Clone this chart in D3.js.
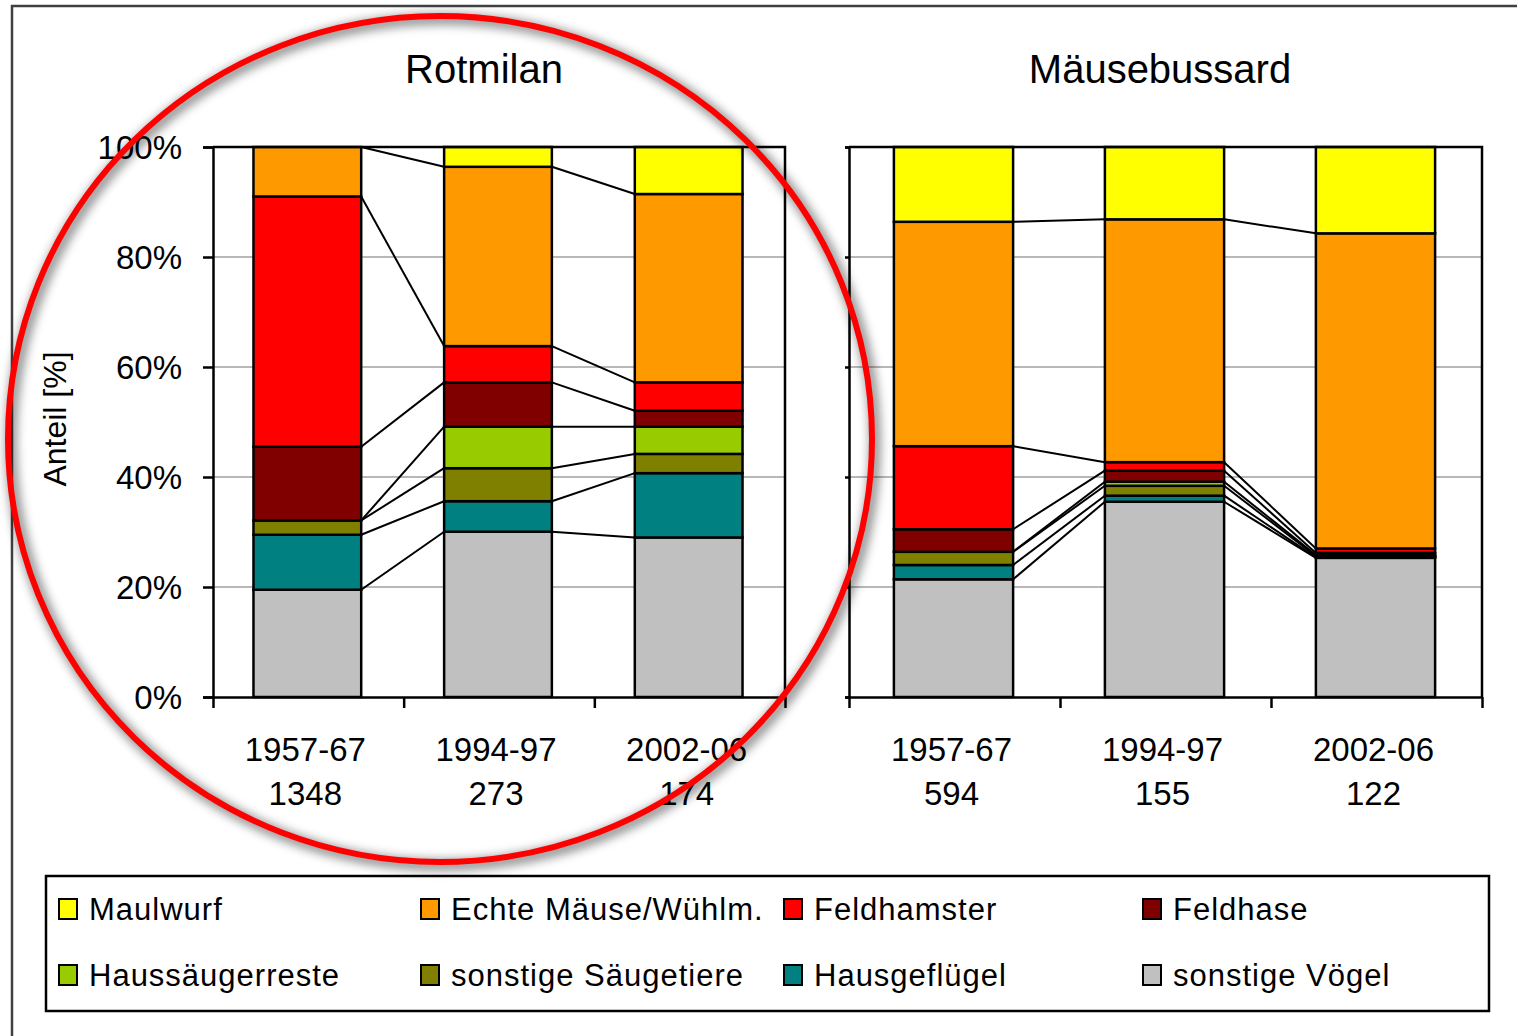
<!DOCTYPE html>
<html>
<head>
<meta charset="utf-8">
<script src="https://cdn.jsdelivr.net/npm/d3@7"></script>
<style>
  body { margin: 0; background: #fff; }
  svg text { font-family: "Liberation Sans", Arial, sans-serif; fill: #000; }
</style>
</head>
<body>
<div id="chart"></div>
<script>
// series, top of the stack first (legend order)
const seriesNames = ["Maulwurf", "Echte Mäuse/Wühlm.", "Feldhamster", "Feldhase",
                     "Haussäugerreste", "sonstige Säugetiere", "Hausgeflügel", "sonstige Vögel"];
const seriesColors = ["#FFFF00", "#FF9900", "#FF0000", "#800000",
                      "#99CC00", "#808000", "#008080", "#C0C0C0"];
const periods = ["1957-67", "1994-97", "2002-06"];
const yTicks = [0, 0.2, 0.4, 0.6, 0.8, 1];

// Rotmilan, percent per series (rows) and period (columns)
const rotmilanTitle = "Rotmilan";
const rotmilanN = [1348, 273, 174];
const rotmilanShares = [
  [0, 3.6, 8.55],
  [9.0, 32.6, 34.25],
  [45.5, 6.6, 5.15],
  [13.4, 8.05, 2.9],
  [0, 7.55, 4.95],
  [2.6, 6.0, 3.5],
  [10.0, 5.55, 11.7],
  [19.5, 30.05, 29.0]
];

// Mäusebussard
const bussardTitle = "Mäusebussard";
const bussardN = [594, 155, 122];
const bussardShares = [
  [13.6, 13.15, 15.7],
  [40.8, 44.15, 57.3],
  [15.1, 1.55, 0.8],
  [4.1, 2.0, 0.4],
  [0, 0.75, 0.2],
  [2.4, 1.8, 0.2],
  [2.6, 1.1, 0.1],
  [21.4, 35.5, 25.3]
];

const W = 1517, H = 1036;
const svg = d3.select("#chart").append("svg")
  .attr("width", W).attr("height", H);

// outer frame
svg.append("rect")
  .attr("x", 12).attr("y", 6).attr("width", 1600).attr("height", 1100)
  .attr("fill", "none").attr("stroke", "#404040").attr("stroke-width", 2.5);

const y = d3.scaleLinear().domain([0, 1]).range([697, 147]);

function drawPanel(opt) {
  const g = svg.append("g");
  const x0 = opt.x0, x1 = opt.x1;

  // rows -> period objects for d3.stack
  const rows = periods.map((p, j) => {
    const o = { period: p };
    seriesNames.forEach((s, i) => { o[s] = opt.shares[i][j] / 100; });
    return o;
  });
  const keys = seriesNames.slice().reverse(); // bottom first
  const stacked = d3.stack().keys(keys)(rows);

  const xBand = d3.scaleBand().domain(periods).range([x0, x1]).padding(0);
  const barW = xBand.bandwidth() * 0.565;
  const barLeft = p => xBand(p) + (xBand.bandwidth() - barW) / 2 - 1;
  const color = d3.scaleOrdinal().domain(seriesNames).range(seriesColors);

  // gridlines
  g.append("g").selectAll("line")
    .data(yTicks.filter(t => t > 0 && t < 1))
    .join("line")
    .attr("x1", x0).attr("x2", x1)
    .attr("y1", d => y(d)).attr("y2", d => y(d))
    .attr("stroke", "#a0a0a0").attr("stroke-width", 1.5);

  // bars
  g.append("g").selectAll("g")
    .data(stacked)
    .join("g")
    .attr("fill", d => color(d.key))
    .selectAll("rect")
    .data(d => d)
    .join("rect")
    .attr("x", d => barLeft(d.data.period))
    .attr("width", barW)
    .attr("y", d => y(d[1]))
    .attr("height", d => y(d[0]) - y(d[1]))
    .attr("stroke", "#000").attr("stroke-width", 2.5);

  // series lines between bars
  const segs = [];
  stacked.forEach(s => {
    for (let j = 0; j < periods.length - 1; j++) {
      segs.push({
        xa: barLeft(periods[j]) + barW, ya: y(s[j][1]),
        xb: barLeft(periods[j + 1]), yb: y(s[j + 1][1])
      });
    }
  });
  g.append("g").selectAll("line")
    .data(segs)
    .join("line")
    .attr("x1", d => d.xa).attr("y1", d => d.ya)
    .attr("x2", d => d.xb).attr("y2", d => d.yb)
    .attr("stroke", "#000").attr("stroke-width", 2);

  // plot frame top + right
  g.append("path")
    .attr("d", `M${x0},${y(1)}H${x1}V${y(0)}`)
    .attr("fill", "none").attr("stroke", "#000").attr("stroke-width", 2.5);

  // y axis
  const yAxis = d3.axisLeft(y).tickValues(yTicks).tickSizeOuter(0);
  if (opt.labels) {
    yAxis.tickFormat(d3.format(".0%")).tickSize(10).tickPadding(21);
  } else {
    yAxis.tickFormat("").tickSize(4);
  }
  const ya = g.append("g").attr("transform", `translate(${x0},0)`).call(yAxis);
  ya.selectAll("text").style("font-size", "33px").attr("dy", "0.35em");
  ya.selectAll("path, line").attr("stroke", "#000").attr("stroke-width", 2.5);

  // x axis with ticks at category boundaries
  const xb = d3.scaleLinear().domain([0, periods.length]).range([x0, x1]);
  const xAxis = d3.axisBottom(xb).tickValues(d3.range(periods.length + 1))
    .tickFormat("").tickSize(11).tickSizeOuter(0);
  const xa = g.append("g").attr("transform", `translate(0,${y(0)})`).call(xAxis);
  xa.selectAll("path, line").attr("stroke", "#000").attr("stroke-width", 2.5);

  // category labels
  const lab = g.append("g").selectAll("text")
    .data(periods)
    .join("text")
    .attr("text-anchor", "middle")
    .style("font-size", "33px");
  lab.append("tspan")
    .attr("x", d => xBand(d) + xBand.bandwidth() / 2 - 3)
    .attr("y", 761)
    .text(d => d);
  lab.append("tspan")
    .attr("x", d => xBand(d) + xBand.bandwidth() / 2 - 3)
    .attr("y", 805)
    .text((d, i) => opt.n[i]);

  // title
  g.append("text")
    .attr("x", opt.titleX).attr("y", 83)
    .attr("text-anchor", "middle")
    .style("font-size", "40px")
    .text(opt.title);
}

drawPanel({ x0: 213, x1: 785, shares: rotmilanShares, n: rotmilanN,
            title: rotmilanTitle, titleX: 484, labels: true });
drawPanel({ x0: 849, x1: 1482, shares: bussardShares, n: bussardN,
            title: bussardTitle, titleX: 1160, labels: false });

// y axis title
svg.append("text")
  .attr("transform", "translate(66,419) rotate(-90)")
  .attr("text-anchor", "middle")
  .style("font-size", "32px")
  .text("Anteil [%]");

// legend
const legend = svg.append("g");
legend.append("rect")
  .attr("x", 46).attr("y", 876).attr("width", 1443).attr("height", 135)
  .attr("fill", "#fff").attr("stroke", "#000").attr("stroke-width", 2.5);
const legCols = [59, 421, 784, 1143];
const legRows = [909, 975];
const li = legend.selectAll("g.item")
  .data(seriesNames)
  .join("g")
  .attr("class", "item")
  .attr("transform", (d, i) => `translate(${legCols[i % 4]},${legRows[Math.floor(i / 4)]})`);
li.append("rect")
  .attr("x", 0).attr("y", -10).attr("width", 18).attr("height", 20)
  .attr("fill", (d, i) => seriesColors[i])
  .attr("stroke", "#000").attr("stroke-width", 2);
li.append("text")
  .attr("x", 30).attr("y", 0).attr("dy", "0.36em")
  .style("font-size", "31px")
  .style("letter-spacing", "1px")
  .text(d => d);

// red highlight ellipse with soft shadow
const defs = svg.append("defs");
const f = defs.append("filter").attr("id", "soft")
  .attr("x", "-10%").attr("y", "-10%").attr("width", "120%").attr("height", "120%");
f.append("feGaussianBlur").attr("stdDeviation", 5);

svg.append("ellipse")
  .attr("cx", 443).attr("cy", 442).attr("rx", 432).attr("ry", 423)
  .attr("fill", "none").attr("stroke", "#000").attr("stroke-opacity", 0.4)
  .attr("stroke-width", 12).attr("filter", "url(#soft)");
svg.append("ellipse")
  .attr("cx", 440).attr("cy", 439).attr("rx", 432).attr("ry", 423)
  .attr("fill", "none").attr("stroke", "#FF0000").attr("stroke-width", 6);
</script>
</body>
</html>
